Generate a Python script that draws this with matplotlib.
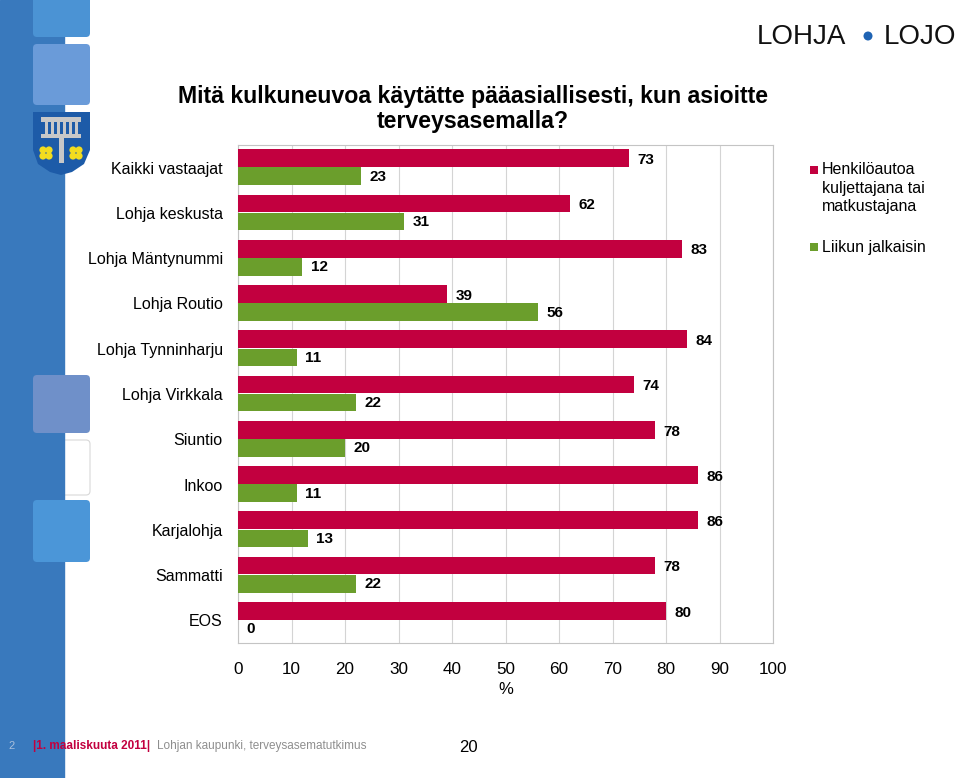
import numpy as np
import matplotlib
matplotlib.use("Agg")
import matplotlib.pyplot as plt
import matplotlib.patches as patches

plt.rcParams['font.family'] = ['Liberation Sans', 'DejaVu Sans']

categories = ["Kaikki vastaajat", "Lohja keskusta", "Lohja Mäntynummi", "Lohja Routio",
              "Lohja Tynninharju", "Lohja Virkkala", "Siuntio", "Inkoo",
              "Karjalohja", "Sammatti", "EOS"]
auto = [73, 62, 83, 39, 84, 74, 78, 86, 86, 78, 80]
walk = [23, 31, 12, 56, 11, 22, 20, 11, 13, 22, 0]
series_names = ["Henkilöautoa\nkuljettajana tai\nmatkustajana", "Liikun jalkaisin"]
xticks = list(range(0, 101, 10))

red = "#c2003f"
green = "#6b9e2c"

fig = plt.figure(figsize=(9.6, 7.78), dpi=100)

# background decoration in pixel coordinates
bg = fig.add_axes([0, 0, 1, 1], zorder=0)
bg.set_xlim(0, 960)
bg.set_ylim(778, 0)
bg.axis("off")

bg.add_patch(patches.Rectangle((0, 0), 64, 778, color="#3979bd", zorder=2))


def square(y0, y1, color, z=3, ec="none"):
    bg.add_patch(patches.FancyBboxPatch((33, y0), 57, y1 - y0,
                                        boxstyle="round,pad=0,rounding_size=4",
                                        fc=color, ec=ec, lw=0.8, zorder=z))


square(-10, 37, "#4b93d4")
square(44, 105, "#6a9bd9")
square(375, 433, "#6f90c9")
square(440, 495, "white", z=1, ec="#d8d8d8")
square(500, 562, "#4b96d8")

# shield
sx = [33, 90, 90, 84, 72, 61, 50, 38, 33]
sy = [112, 112, 150, 164, 172, 175, 172, 164, 150]
bg.add_patch(patches.Polygon(list(zip(sx, sy)), closed=True, fc="#1d5ba8", zorder=3))
bg.add_patch(patches.Rectangle((41, 117), 40, 5, fc="#c8c8c8", zorder=4))
for tx in [45, 51, 57, 63, 69, 75]:
    bg.add_patch(patches.Rectangle((tx, 122), 3, 12, fc="#c8c8c8", zorder=4))
bg.add_patch(patches.Rectangle((41, 134), 40, 4, fc="#c8c8c8", zorder=4))
bg.add_patch(patches.Rectangle((59, 138), 5, 25, fc="#c8c8c8", zorder=4))
for cx in [46, 76]:
    for dx, dy in [(-3, -2), (3, -2), (-3, 4), (3, 4)]:
        bg.add_patch(patches.Circle((cx + dx, 152 + dy), 3.6, fc="#f2dc1e", zorder=5))

# logo
bg.text(846, 37, "LOHJA", fontsize=20, ha="right", va="center", color="#111111")
bg.add_patch(patches.Circle((868, 36), 4.5, fc="#1f63b3", ec="none"))
bg.text(884, 37, "LOJO", fontsize=20, ha="left", va="center", color="#111111")

# footer
bg.text(8, 746, "2", fontsize=8, color="#a9bfdc", va="center")
bg.text(33, 746, "|1. maaliskuuta 2011|", fontsize=8.5, color=red, weight="bold", va="center")
bg.text(157, 746, "Lohjan kaupunki, terveysasematutkimus", fontsize=8.5, color="#8e8e8e", va="center")
bg.text(468, 748, "20", fontsize=12, color="black", ha="center", va="center")

# title
bg.text(473, 109, "Mitä kulkuneuvoa käytätte pääasiallisesti, kun asioitte\nterveysasemalla?",
        fontsize=16.7, weight="bold", ha="center", va="center", linespacing=1.1)

# main chart
ax = fig.add_axes([238 / 960, 1 - 643 / 778, 535 / 960, 498 / 778], zorder=1)
y = np.arange(len(categories))
h = 0.39
ax.barh(y - 0.21, auto, height=h, color=red, zorder=3)
ax.barh(y + 0.19, walk, height=h, color=green, zorder=3)

for i in range(len(categories)):
    ax.text(auto[i] + 1.6, y[i] - 0.17, str(auto[i]), fontsize=11, weight="bold",
            va="center", ha="left")
    ax.text(walk[i] + 1.6, y[i] + 0.2, str(walk[i]), fontsize=11, weight="bold",
            va="center", ha="left")

ax.set_xlim(0, 100)
ax.set_ylim(len(categories) - 0.5, -0.5)
ax.set_xticks(xticks)
ax.set_xticklabels([str(t) for t in xticks], fontsize=12.3)
ax.set_yticks(y)
ax.set_yticklabels(categories, fontsize=11.5)
ax.tick_params(axis="both", length=0)
ax.tick_params(axis="x", pad=14)
ax.tick_params(axis="y", pad=11)
ax.grid(axis="x", color="#d4d4d4", lw=0.8, zorder=0)
for s in ax.spines.values():
    s.set_color("#c4c4c4")
ax.set_xlabel("%", fontsize=12, labelpad=3)

# legend
lx = 810
bg.add_patch(patches.Rectangle((lx, 166), 8, 8, fc=red, zorder=3))
bg.text(lx + 12, 162, series_names[0], fontsize=11.5, va="top", ha="left", linespacing=1.3)
bg.add_patch(patches.Rectangle((lx, 243), 8, 8, fc=green, zorder=3))
bg.text(lx + 12, 247, series_names[1], fontsize=11.5, va="center", ha="left")

fig.savefig("out.png", dpi=100)
